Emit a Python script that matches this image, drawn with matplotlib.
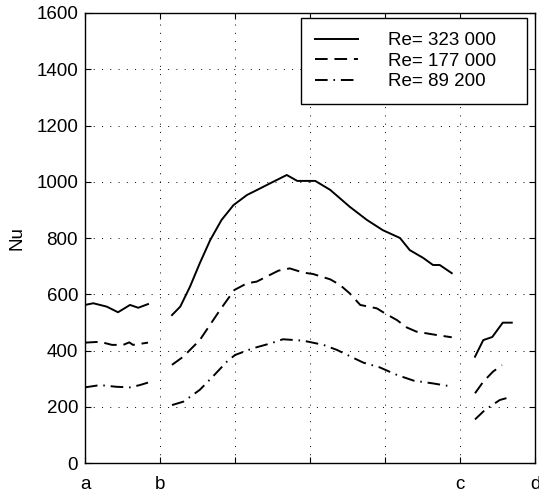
import matplotlib.pyplot as plt
import numpy as np

plt.rcParams['font.family'] = ['Liberation Sans', 'DejaVu Sans']

# x positions in units of tick spacing (a=0, b=1, ..., c=5, d=6)
# each series comes in three segments: a-b, b-c, c-d
re323_x1 = [0.0, 0.11, 0.29, 0.44, 0.6, 0.71, 0.84]
re323_y1 = [562, 568, 556, 536, 562, 552, 565]
re323_x2 = [1.16, 1.27, 1.4, 1.53, 1.67, 1.82, 1.98, 2.16, 2.31, 2.51, 2.69, 2.83, 3.07, 3.27, 3.53, 3.76, 3.97, 4.2, 4.33, 4.51, 4.64, 4.73, 4.89]
re323_y2 = [526, 556, 627, 710, 793, 864, 917, 953, 973, 1000, 1024, 1003, 1003, 971, 911, 864, 828, 800, 757, 729, 704, 704, 675]
re323_x3 = [5.2, 5.31, 5.43, 5.57, 5.69]
re323_y3 = [378, 437, 448, 499, 499]

re177_x1 = [0.0, 0.2, 0.36, 0.51, 0.59, 0.64, 0.84]
re177_y1 = [428, 431, 420, 420, 429, 420, 428]
re177_x2 = [1.16, 1.31, 1.53, 1.8, 1.99, 2.16, 2.29, 2.4, 2.58, 2.73, 2.91, 3.04, 3.27, 3.4, 3.53, 3.67, 3.89, 4.0, 4.16, 4.29, 4.42, 4.6, 4.69, 4.89]
re177_y2 = [349, 378, 437, 544, 615, 639, 645, 660, 684, 692, 677, 672, 653, 633, 603, 562, 550, 532, 508, 482, 467, 459, 455, 447]
re177_x3 = [5.2, 5.31, 5.44, 5.56]
re177_y3 = [248, 289, 325, 348]

re89_x1 = [0.0, 0.2, 0.42, 0.6, 0.73, 0.84]
re89_y1 = [269, 277, 271, 269, 277, 286]
re89_x2 = [1.16, 1.31, 1.53, 1.71, 1.89, 2.0, 2.24, 2.47, 2.64, 2.91, 3.18, 3.36, 3.53, 3.71, 3.93, 4.16, 4.38, 4.64, 4.89]
re89_y2 = [206, 218, 260, 309, 360, 384, 408, 425, 440, 435, 420, 402, 380, 357, 340, 313, 293, 283, 272]
re89_x3 = [5.2, 5.33, 5.53, 5.69]
re89_y3 = [155, 188, 224, 236]

labels = ['Re= 323 000', 'Re= 177 000', 'Re= 89 200']
xtick_labels = ['a', 'b', '', '', '', 'c', 'd']

fig = plt.figure(figsize=(5.39, 4.96), dpi=100)
ax = fig.add_axes([0.1577, 0.0665, 0.8349, 0.9073])

lw = 1.4
dash = (0, (6.5, 3.5))
dashdot = (0, (6.5, 3, 0.8, 3))

ax.plot(re323_x1, re323_y1, color='k', lw=lw, label=labels[0])
ax.plot(re323_x2, re323_y2, color='k', lw=lw)
ax.plot(re323_x3, re323_y3, color='k', lw=lw)

ax.plot(re177_x1, re177_y1, color='k', lw=lw, linestyle=dash, label=labels[1])
ax.plot(re177_x2, re177_y2, color='k', lw=lw, linestyle=dash)
ax.plot(re177_x3, re177_y3, color='k', lw=lw, linestyle=dash)

ax.plot(re89_x1, re89_y1, color='k', lw=lw, linestyle=dashdot, label=labels[2])
ax.plot(re89_x2, re89_y2, color='k', lw=lw, linestyle=dashdot)
ax.plot(re89_x3, re89_y3, color='k', lw=lw, linestyle=dashdot)

fs = 13.5
ax.set_xlim(0, 6)
ax.set_ylim(0, 1600)
ax.set_xticks(np.arange(7))
ax.set_xticklabels(xtick_labels)
ax.set_yticks(np.arange(0, 1601, 200))
ax.tick_params(direction='in', top=True, right=True, labelsize=fs, length=4, width=0.8, pad=5)
ax.tick_params(axis='x', pad=9)
ax.grid(True, color='k', linestyle=(0, (1, 7.5)), linewidth=0.7)
for s in ax.spines.values():
    s.set_linewidth(1.0)
ax.set_ylabel('Nu', fontsize=fs, labelpad=8)

leg = ax.legend(loc='upper right', bbox_to_anchor=(0.48, 0.5, 0.502, 0.489), mode='expand',
                fontsize=fs, frameon=True, fancybox=False, edgecolor='k', framealpha=1,
                handlelength=2.3, handletextpad=1.6, borderpad=0.75, labelspacing=0.18,
                borderaxespad=0)
leg.get_frame().set_linewidth(1.0)

fig.savefig('out.png', dpi=100)
